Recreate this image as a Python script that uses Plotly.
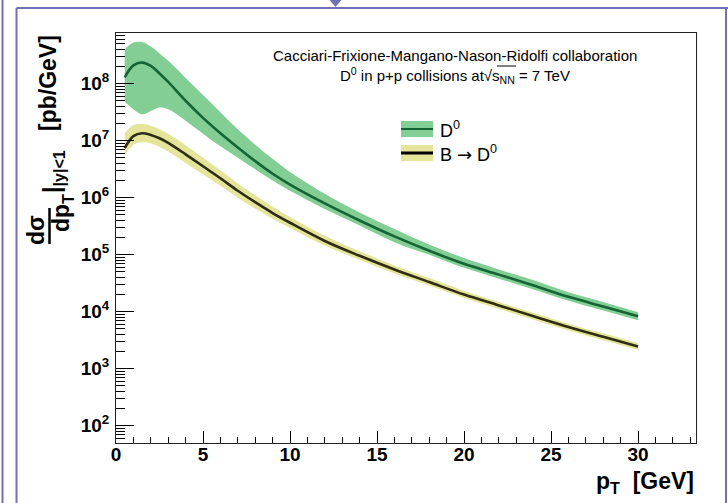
import plotly.graph_objects as go

# ---------------- data ----------------
pt = [0.5, 1.0, 1.5, 2.0, 2.5, 3.0, 4.0, 5.0, 6.0, 7.0, 8.0, 9.0, 10.0,
      12.0, 14.0, 16.0, 18.0, 20.0, 22.0, 24.0, 26.0, 28.0, 30.0]

d0_central = [1.29e8, 2.09e8, 2.34e8, 2.04e8, 1.51e8, 1.07e8, 5.01e7, 2.51e7, 1.35e7,
              7.59e6, 4.37e6, 2.63e6, 1.70e6, 7.94e5, 3.98e5, 2.09e5, 1.17e5, 6.92e4,
              4.47e4, 2.88e4, 1.82e4, 1.23e4, 8.32e3]
d0_upper = [3.98e8, 5.25e8, 5.37e8, 4.47e8, 3.39e8, 2.51e8, 1.26e8, 6.31e7, 3.16e7,
            1.58e7, 8.51e6, 4.79e6, 2.82e6, 1.17e6, 5.50e5, 2.82e5, 1.51e5, 8.71e4,
            5.50e4, 3.55e4, 2.19e4, 1.48e4, 9.77e3]
d0_lower = [4.79e7, 3.55e7, 2.88e7, 3.31e7, 3.80e7, 3.55e7, 2.24e7, 1.32e7, 7.94e6,
            5.01e6, 3.16e6, 2.00e6, 1.32e6, 6.31e5, 3.24e5, 1.66e5, 1.00e5, 5.89e4,
            3.80e4, 2.45e4, 1.55e4, 1.05e4, 7.08e3]

b_central = [7.41e6, 1.20e7, 1.35e7, 1.26e7, 1.10e7, 9.12e6, 5.75e6, 3.55e6, 2.19e6,
             1.32e6, 8.32e5, 5.37e5, 3.63e5, 1.74e5, 9.55e4, 5.50e4, 3.31e4, 2.00e4,
             1.29e4, 8.32e3, 5.37e3, 3.63e3, 2.45e3]
b_upper = [1.35e7, 1.86e7, 1.95e7, 1.82e7, 1.58e7, 1.32e7, 8.32e6, 5.01e6, 3.02e6,
           1.78e6, 1.10e6, 6.92e5, 4.57e5, 2.14e5, 1.15e5, 6.46e4, 3.89e4, 2.34e4,
           1.48e4, 9.55e3, 6.17e3, 4.17e3, 2.82e3]
b_lower = [5.62e6, 8.51e6, 9.33e6, 8.91e6, 7.76e6, 6.46e6, 4.07e6, 2.57e6, 1.62e6,
           1.00e6, 6.46e5, 4.27e5, 2.95e5, 1.45e5, 8.13e4, 4.68e4, 2.88e4, 1.74e4,
           1.12e4, 7.24e3, 4.68e3, 3.16e3, 2.14e3]

x_tick_vals = [0, 5, 10, 15, 20, 25, 30]
y_tick_vals = [1e2, 1e3, 1e4, 1e5, 1e6, 1e7, 1e8]
y_tick_text = ["<b>10<sup>%d</sup></b>" % e for e in range(2, 9)]

title_line1 = "Cacciari-Frixione-Mangano-Nason-Ridolfi collaboration"
title_line2 = "D<sup>0</sup> in p+p collisions at\u221as<sub>NN</sub> = 7 TeV"
legend_labels = ["D<sup>0</sup>",
                 "B <span style=\"font-family:DejaVu Sans\">\u2192</span> D<sup>0</sup>"]

# ---------------- styles ----------------
GREEN_FILL = "rgb(130,206,148)"
GREEN_LINE = "rgb(20,100,52)"
YELLOW_FILL = "rgb(228,228,155)"
YELLOW_LINE = "rgb(45,45,20)"
PURPLE = "rgb(112,112,180)"
FONT = "Liberation Sans, Arial, Helvetica, sans-serif"

W, H = 728, 503
L, R, T, B = 116, 32, 33, 60
PW, PH = W - L - R, H - T - B


def PX(x):
    return (x - L) / PW


def PY(y):
    return (H - B - y) / PH


fig = go.Figure()

# bands
for lo, up, col in [(b_lower, b_upper, YELLOW_FILL), (d0_lower, d0_upper, GREEN_FILL)]:
    fig.add_trace(go.Scatter(x=pt, y=lo, mode="lines", line=dict(width=0, shape="spline"),
                             showlegend=False, hoverinfo="skip"))
    fig.add_trace(go.Scatter(x=pt, y=up, mode="lines", line=dict(width=0, shape="spline"),
                             fill="tonexty", fillcolor=col, showlegend=False, hoverinfo="skip"))

# central curves
fig.add_trace(go.Scatter(x=pt, y=b_central, mode="lines",
                         line=dict(color=YELLOW_LINE, width=2.6, shape="spline"), showlegend=False))
fig.add_trace(go.Scatter(x=pt, y=d0_central, mode="lines",
                         line=dict(color=GREEN_LINE, width=2.6, shape="spline"), showlegend=False))

minor_y = [k * 10 ** e for e in range(1, 9) for k in range(2, 10)]

fig.update_xaxes(range=[0, 33.33], tickvals=x_tick_vals, ticks="inside", ticklen=12,
                 tickwidth=1, tickcolor="black", showline=True, linecolor="#222", linewidth=1,
                 mirror=True, showgrid=False, zeroline=False, ticklabelstandoff=-6,
                 tickfont=dict(family=FONT, size=19, color="black", weight="bold"),
                 minor=dict(dtick=1, ticks="inside", ticklen=6, tickcolor="black", showgrid=False))
fig.update_yaxes(type="log", range=[1.697, 8.888], tickvals=y_tick_vals, ticktext=y_tick_text,
                 ticks="inside", ticklen=18, tickwidth=1, tickcolor="black",
                 showline=True, linecolor="#222", linewidth=1, mirror=True,
                 showgrid=False, zeroline=False, ticklabelstandoff=2,
                 tickfont=dict(family=FONT, size=19, color="black"),
                 minor=dict(tickvals=minor_y, ticks="inside", ticklen=9, tickcolor="black",
                            showgrid=False))


def A(x, y, text, size, xanchor="center", angle=0):
    f = dict(family=FONT, size=size, color="black")
    return dict(xref="paper", yref="paper", x=PX(x), y=PY(y), text=text, showarrow=False,
                xanchor=xanchor, yanchor="middle", textangle=angle, font=f)


ann = []
# title lines
ann.append(A(455, 55, title_line1, 15))
ann.append(A(455, 75, title_line2, 15))
# legend text
ann.append(A(438, 129, legend_labels[0], 18, xanchor="left"))
ann.append(A(438, 153, legend_labels[1], 18, xanchor="left"))
# x title
ann.append(A(696, 482, "<b>p<sub>T</sub>  [GeV]</b>", 23, xanchor="right"))
# y title pieces
ann.append(A(48, 83, "<b>[pb/GeV]</b>", 23, angle=-90))
ann.append(A(53, 172, "<b>|<sub>|y|<1</sub></b>", 23, angle=-90))
ann.append(A(36, 230, "<b>d\u03c3</b>", 23, angle=-90))
ann.append(A(63, 213, "<b>dp<sub>T</sub></b>", 23, angle=-90))

shapes = []
# fraction bar
shapes.append(dict(type="line", xref="paper", yref="paper", x0=PX(49.5), x1=PX(49.5),
                   y0=PY(208), y1=PY(244), line=dict(color="black", width=2.5)))
# sqrt overline
shapes.append(dict(type="line", xref="paper", yref="paper", x0=PX(497), x1=PX(516),
                   y0=PY(66), y1=PY(66), line=dict(color="black", width=1)))
# legend symbols
shapes.append(dict(type="rect", xref="paper", yref="paper", x0=PX(401), x1=PX(433),
                   y0=PY(121), y1=PY(137), fillcolor=GREEN_FILL, line=dict(width=0)))
shapes.append(dict(type="line", xref="paper", yref="paper", x0=PX(401), x1=PX(433),
                   y0=PY(129), y1=PY(129), line=dict(color=GREEN_LINE, width=2)))
shapes.append(dict(type="rect", xref="paper", yref="paper", x0=PX(401), x1=PX(433),
                   y0=PY(145), y1=PY(161), fillcolor=YELLOW_FILL, line=dict(width=0)))
shapes.append(dict(type="line", xref="paper", yref="paper", x0=PX(401), x1=PX(433),
                   y0=PY(153), y1=PY(153), line=dict(color="black", width=3)))
# purple frame
shapes.append(dict(type="line", xref="paper", yref="paper", x0=PX(2.5), x1=PX(2.5),
                   y0=PY(0), y1=PY(503), line=dict(color=PURPLE, width=2)))
shapes.append(dict(type="line", xref="paper", yref="paper", x0=PX(16.5), x1=PX(16.5),
                   y0=PY(8), y1=PY(503), line=dict(color=PURPLE, width=2)))
shapes.append(dict(type="line", xref="paper", yref="paper", x0=PX(16.5), x1=PX(728),
                   y0=PY(8), y1=PY(8), line=dict(color=PURPLE, width=2)))
shapes.append(dict(type="line", xref="paper", yref="paper", x0=PX(726), x1=PX(726),
                   y0=PY(8), y1=PY(503), line=dict(color=PURPLE, width=2)))
shapes.append(dict(type="path", xref="paper", yref="paper",
                   path="M %f,%f L %f,%f L %f,%f Z" % (PX(329.5), PY(0), PX(341.5), PY(0),
                                                      PX(335.5), PY(7)),
                   fillcolor=PURPLE, line=dict(width=0)))

fig.update_layout(width=W, height=H, margin=dict(l=L, r=R, t=T, b=B),
                  paper_bgcolor="white", plot_bgcolor="white",
                  annotations=ann, shapes=shapes, showlegend=False)

fig.write_html("out.html")
